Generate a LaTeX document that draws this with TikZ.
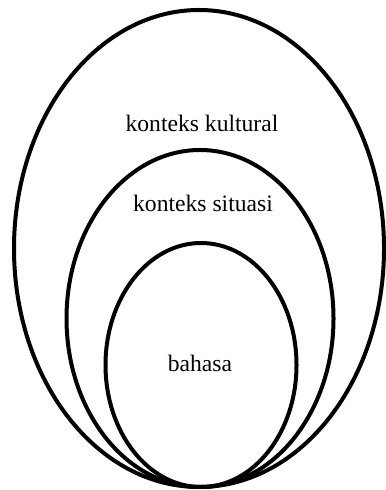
\documentclass[tikz,border=0pt]{standalone}
\usepackage{fontspec}
\setmainfont{Liberation Serif}
\usetikzlibrary{positioning}
\tikzset{
  ring/.style={line width=2pt, draw=black},
  label/.style={font=\fontsize{11.8}{14}\selectfont, inner sep=1pt}
}

\begin{document}
\begin{tikzpicture}[x=0.5pt, y=-0.5pt]
    \useasboundingbox (0,0) rectangle (385,490);
    % Outer level
    \draw[ring] (199,248.5) ellipse [x radius=185, y radius=238.5];
    \node[label] (kultural) at (202,123) {konteks kultural};
    
    % Middle level
    \draw[ring] (200,318.5) ellipse [x radius=133.5, y radius=168.5];
    \node[label] (situasi) at (203,203) {konteks situasi};
    
    % Inner level
    \draw[ring] (201,365) ellipse [x radius=95.5, y radius=122];
    \node[label] (bahasa) at (200,363) {bahasa};
\end{tikzpicture}
\end{document}
